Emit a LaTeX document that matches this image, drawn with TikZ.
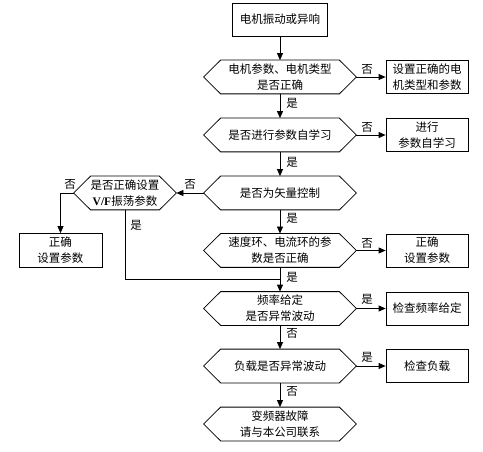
\documentclass[tikz,border=0pt]{standalone}
\usepackage{fontspec}
\setmainfont{Noto Sans CJK SC}
\newfontfamily\lat{Liberation Serif}
\usetikzlibrary{arrows.meta}
\begin{document}
\begin{tikzpicture}[x=1pt,y=-1pt,
  font=\fontsize{11.5}{16}\selectfont,
  line width=0.8pt,
  arr/.style={-{Triangle[length=7pt,width=6pt]}},
  rbox/.style={draw, minimum width=82pt, minimum height=33pt, inner sep=0pt, align=center},
  hexnode/.style={minimum width=152pt, minimum height=33pt, inner sep=0pt, align=center},
  lbl/.style={inner sep=0pt}]
\path[use as bounding box, fill=white] (0,0) rectangle (483,452);

\node[rbox, minimum width=95pt] (top) at (280,19.5) {电机振动或异响};

\node[hexnode] (h1) at (280,77) {电机参数、电机类型\\是否正确};
\node[hexnode] (h2) at (280,135) {是否进行参数自学习};
\node[hexnode] (h3) at (280,193) {是否为矢量控制};
\node[hexnode] (h4) at (280,250.5) {速度环、电流环的参\\数是否正确};
\node[hexnode] (h5) at (280,308.5) {频率给定\\是否异常波动};
\node[hexnode] (h6) at (280,366) {负载是否异常波动};
\node[hexnode] (h7) at (280,424) {变频器故障\\请与本公司联系};
\node[hexnode, minimum width=102pt] (lh) at (125,193) {是否正确设置\\{\lat\bfseries V/F}振荡参数};

\foreach \n in {h1,h2,h3,h4,h5,h6,h7,lh}
  \draw (\n.west) -- ([xshift=17pt]\n.north west) -- ([xshift=-17pt]\n.north east)
    -- (\n.east) -- ([xshift=-17pt]\n.south east) -- ([xshift=17pt]\n.south west) -- cycle;

\node[rbox] (r1) at (427,77) {设置正确的电\\机类型和参数};
\node[rbox] (r2) at (427,135) {进行\\参数自学习};
\node[rbox] (r4) at (427,250.5) {正确\\设置参数};
\node[rbox] (r5) at (427,308.5) {检查频率给定};
\node[rbox] (r6) at (427,366) {检查负载};
\node[rbox, minimum width=83pt, minimum height=34pt] (lb) at (60.5,250.5) {正确\\设置参数};

\coordinate (join) at (280,279);

\draw[arr] (top.south) -- (h1.north);
\draw[arr] (h1.south) -- (h2.north);
\draw[arr] (h2.south) -- (h3.north);
\draw[arr] (h3.south) -- (h4.north);
\draw[arr] (h4.south) -- (h5.north);
\draw[arr] (h5.south) -- (h6.north);
\draw[arr] (h6.south) -- (h7.north);
\draw[arr] (h1.east) -- (r1.west);
\draw[arr] (h2.east) -- (r2.west);
\draw[arr] (h4.east) -- (r4.west);
\draw[arr] (h5.east) -- (r5.west);
\draw[arr] (h6.east) -- (r6.west);
\draw[arr] (h3.west) -- (lh.east);
\draw[arr] (lh.west) -| (lb.north);
\draw (lh.south) |- (join);

\node[lbl] (n1) at (367,69) {否};
\node[lbl] (n2) at (367,127) {否};
\node[lbl] (n4) at (367,243) {否};
\node[lbl] (n5) at (367,299) {是};
\node[lbl] (n6) at (367,357) {是};
\node[lbl] (y1) at (292,103) {是};
\node[lbl] (y2) at (292,162) {是};
\node[lbl] (y3) at (292,218) {是};
\node[lbl] (y4) at (292,277) {是};
\node[lbl] (y5) at (292,333) {否};
\node[lbl] (y6) at (292,391) {否};
\node[lbl] (n3) at (190,184) {否};
\node[lbl] (nl) at (70,184) {否};
\node[lbl] (yl) at (136,225) {是};
\end{tikzpicture}
\end{document}
